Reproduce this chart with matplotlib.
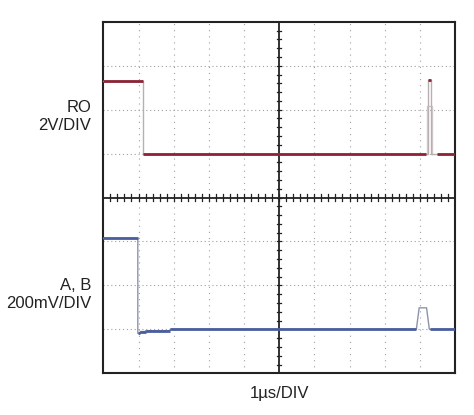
import numpy as np
import matplotlib
matplotlib.use("Agg")
import matplotlib.pyplot as plt
from matplotlib import font_manager as fm

# ---- data (in divisions) ----
ro_t = [0.0, 1.14, 1.14, 1.50, 1.50, 9.23, 9.23, 9.31, 9.31, 10.0]
ro_v = [6.65, 6.65, 4.98, 4.98, 5.00, 5.00, 6.68, 6.68, 5.00, 5.00]
ro_ghost_t = [9.19, 9.19, 9.34, 9.34]
ro_ghost_v = [5.00, 6.09, 6.09, 5.00]

ab_t = [0.0, 0.98, 0.98, 1.05, 1.05, 1.20, 1.20, 1.90, 1.90, 8.90, 8.98, 9.19, 9.27, 10.0]
ab_v = [3.07, 3.07, 0.91, 0.91, 0.95, 0.95, 0.97, 0.97, 1.00, 1.00, 1.49, 1.49, 1.00, 1.00]

labels_left = ["RO\n2V/DIV", "A, B\n200mV/DIV"]
xlabel = "1\u00b5s/DIV"

names = {f.name for f in fm.fontManager.ttflist}
fam = "Liberation Sans Narrow" if "Liberation Sans Narrow" in names else "Liberation Sans"
plt.rcParams['font.family'] = [fam, 'DejaVu Sans']

RED = "#8c2234"
BLUE = "#4a5e9e"
GHOST = "#b9aeb2"

fig = plt.figure(figsize=(4.74, 4.15), dpi=100)
ax = fig.add_axes([0.218, 0.1005, 0.742, 0.847])
ax.set_xlim(0, 10)
ax.set_ylim(0, 8)
ax.set_xticks([]); ax.set_yticks([])
for s in ax.spines.values():
    s.set_linewidth(1.5)
    s.set_color("#222222")

# dotted grid
for x in range(1, 10):
    if x != 5:
        ax.axvline(x, color="#a0a0a0", lw=0.8, ls=(0, (1, 4.5)), zorder=1)
for y in range(1, 8):
    if y != 4:
        ax.axhline(y, color="#a0a0a0", lw=0.8, ls=(0, (1, 2.5)), zorder=1)

# center cross with ticks
ax.axvline(5, color="#222222", lw=1.3, zorder=2)
ax.axhline(4, color="#222222", lw=1.3, zorder=2)
mx = np.arange(0.2, 10, 0.2)
ax.plot(np.repeat(mx, 3), np.tile([3.93, 4.07, np.nan], len(mx)), color="#222222", lw=0.9, zorder=2)
my = np.arange(0.2, 8, 0.2)
ax.plot(np.tile([4.94, 5.06, np.nan], len(my)), np.repeat(my, 3), color="#222222", lw=0.9, zorder=2)

def flat_segments(t, v, skip=None):
    xs, ys = [], []
    for i in range(len(t) - 1):
        if v[i] == v[i + 1]:
            a, b = t[i], t[i + 1]
            if skip is not None:
                if a >= skip[1] or b <= skip[0]:
                    pass
                elif a < skip[0]:
                    b = skip[0]
                elif b > skip[1]:
                    a = skip[1]
                else:
                    continue
            xs += [a, b, np.nan]
            ys += [v[i], v[i + 1], np.nan]
    return xs, ys

# RO trace
ax.plot(ro_ghost_t, ro_ghost_v, color="#d2cacc", lw=1.0, zorder=3)
ax.plot(ro_t, ro_v, color=GHOST, lw=1.0, zorder=3)
fx, fy = flat_segments(ro_t, ro_v, skip=(9.18, 9.48))
ax.plot(fx, fy, color=RED, lw=2.0, zorder=4, solid_capstyle="butt")
ax.plot([ro_t[6], ro_t[7]], [ro_v[6], ro_v[7]], color=RED, lw=2.0, zorder=4, solid_capstyle="butt")

# A, B trace
ax.plot(ab_t, ab_v, color="#8d94aa", lw=1.0, zorder=3)
gx, gy = flat_segments(ab_t, ab_v, skip=(8.88, 9.29))
ax.plot(gx, gy, color=BLUE, lw=2.0, zorder=4, solid_capstyle="butt")

# labels
fs = 12
fig.text(91 / 474, 1 - 116 / 415, labels_left[0], ha="right", va="center", fontsize=fs,
         linespacing=1.25, color="#222222")
fig.text(91 / 474, 1 - 294 / 415, labels_left[1], ha="right", va="center", fontsize=fs,
         linespacing=1.25, color="#222222")
fig.text(279.5 / 474, 1 - 393 / 415, xlabel, ha="center", va="center", fontsize=fs, color="#222222")

fig.savefig("out.png", dpi=100)
